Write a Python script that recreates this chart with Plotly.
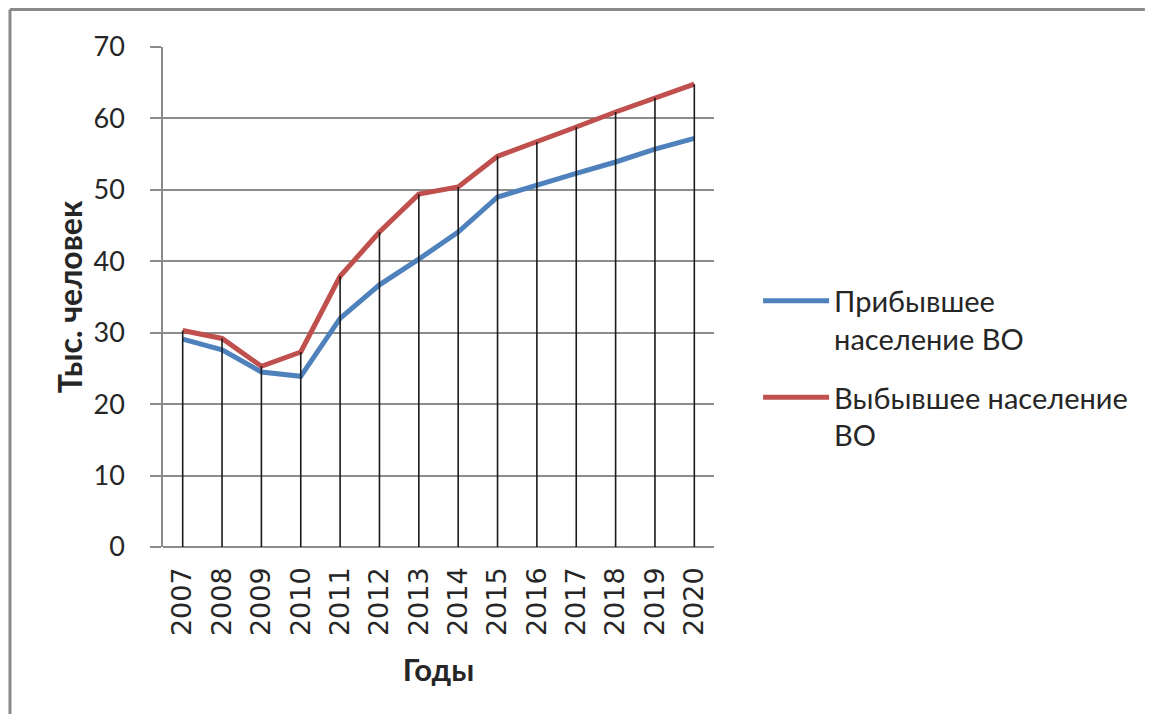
import plotly.graph_objects as go

years = ["2007", "2008", "2009", "2010", "2011", "2012", "2013",
         "2014", "2015", "2016", "2017", "2018", "2019", "2020"]
arrived = [29.1, 27.6, 24.5, 23.9, 32.0, 36.7, 40.3,
           44.1, 49.0, 50.7, 52.3, 53.9, 55.7, 57.2]
departed = [30.3, 29.2, 25.3, 27.3, 37.9, 44.1, 49.4,
            50.4, 54.7, 56.7, 58.8, 60.9, 62.9, 64.8]
name_arrived = "Прибывшее<br>население ВО"
name_departed = "Выбывшее население<br>ВО"
y_ticks = [0, 10, 20, 30, 40, 50, 60, 70]

BLUE = "#4F81BD"
RED = "#C0504D"
GRID = "#8C8C8C"
TXT = "#262626"

# drop lines from the axis to the highest point of each category
drop_x, drop_y = [], []
for yr, a, d in zip(years, arrived, departed):
    drop_x += [yr, yr, None]
    drop_y += [0, max(a, d), None]

fig = go.Figure()
fig.add_trace(go.Scatter(x=years, y=arrived, mode="lines", name=name_arrived,
                         line=dict(color=BLUE, width=5), legendgroup="a"))
fig.add_trace(go.Scatter(x=years, y=departed, mode="lines", name=name_departed,
                         line=dict(color=RED, width=5), legendgroup="b"))
fig.add_trace(go.Scatter(x=drop_x, y=drop_y, mode="lines", showlegend=False,
                         line=dict(color="#1a1a1a", width=1.6), hoverinfo="skip"))

fig.update_layout(
    width=1137, height=706,
    paper_bgcolor="white", plot_bgcolor="white",
    margin=dict(l=155, r=431, t=39, b=167),
    font=dict(family="Lato, DejaVu Sans, sans-serif", color=TXT, size=26),
    showlegend=True,
    legend=dict(x=1.08, y=0.543, xanchor="left", yanchor="top", valign="top",
                font=dict(size=29, color=TXT, family="Lato"),
                tracegroupgap=18, itemwidth=66, bgcolor="rgba(0,0,0,0)"),
    xaxis=dict(type="category", categoryorder="array", categoryarray=years,
               range=[-0.5, len(years) - 0.5],
               showgrid=False, showline=False, zeroline=False,
               tickangle=-90, ticks="",
               tickfont=dict(family="DejaVu Sans", size=27, color=TXT),
               ticklabelstandoff=14,
               title=dict(text="<b>Годы</b>", font=dict(family="Lato", size=31, color=TXT),
                          standoff=24)),
    yaxis=dict(range=[0, 70], tickvals=y_ticks, showgrid=True, gridcolor=GRID,
               gridwidth=1.5, showline=True, linecolor=GRID, linewidth=1.5,
               zeroline=True, zerolinecolor=GRID, zerolinewidth=1.5,
               ticks="outside", ticklen=11, tickcolor=GRID, tickwidth=1.5,
               tickfont=dict(family="Lato", size=27, color=TXT),
               ticklabelstandoff=20,
               title=dict(text="<b>Тыс. человек</b>", font=dict(family="Lato", size=32, color=TXT),
                          standoff=1)),
    shapes=[
        dict(type="line", xref="paper", yref="paper",
             x0=-0.2777, x1=1.782, y0=1.075, y1=1.075,
             line=dict(color="#8a8a8a", width=3), layer="below"),
        dict(type="line", xref="paper", yref="paper",
             x0=-0.2777, x1=-0.2777, y0=1.075, y1=-0.334,
             line=dict(color="#8a8a8a", width=3), layer="below"),
    ],
)

fig.write_html("out.html")
